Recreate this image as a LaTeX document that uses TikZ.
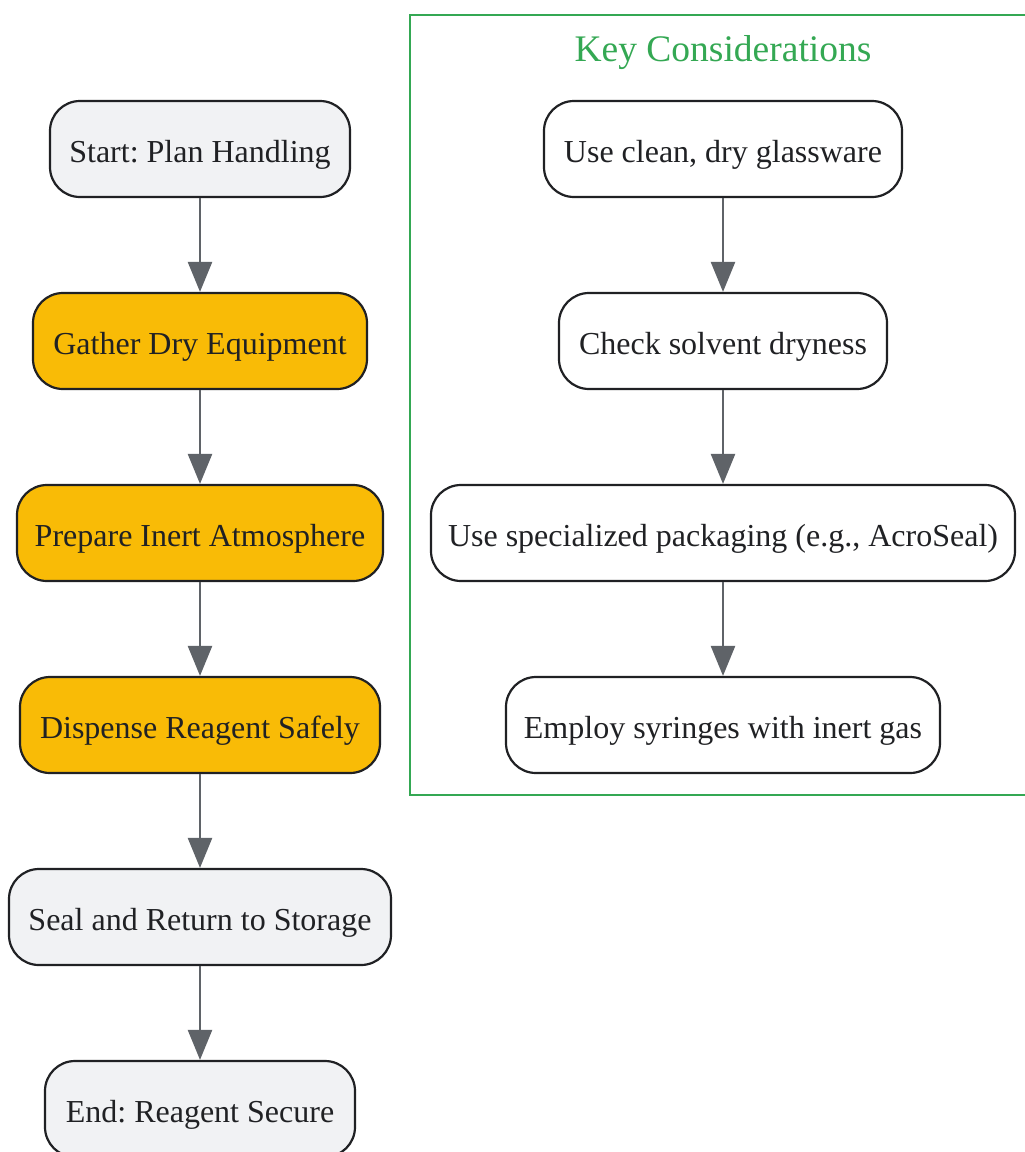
\documentclass[tikz,border=0pt]{standalone}
\usepackage{fontspec}
\setmainfont{Liberation Serif}
\usetikzlibrary{arrows.meta}
\frenchspacing
\definecolor{grayfill}{HTML}{F1F2F4}
\definecolor{yellowfill}{HTML}{F9BB06}
\definecolor{edgegray}{HTML}{5F6368}
\definecolor{darkline}{HTML}{202124}
\definecolor{clustergreen}{HTML}{34A853}
\tikzset{
  box/.style={draw=darkline, line width=2.2pt, rounded corners=30pt, minimum height=96pt,
    inner sep=0pt, text height=26pt, text depth=0pt,
    font=\fontsize{32}{36}\selectfont\frenchspacing, text=darkline},
  graybox/.style={box, fill=grayfill},
  yellowbox/.style={box, fill=yellowfill},
  whitebox/.style={box, fill=white},
  flow/.style={draw=edgegray, line width=2.5pt, -{Triangle[width=24pt,length=30pt]}},
}
\begin{document}
\begin{tikzpicture}[x=1pt,y=-1pt]
\useasboundingbox (0,0) rectangle (1025,1152);
\fill[white] (0,0) rectangle (1025,1152);
% cluster
\draw[clustergreen, line width=2.5pt] (1060,15) -- (410,15) -- (410,795) -- (1060,795);
\node[text=clustergreen, font=\fontsize{37.5}{42}\selectfont, anchor=base, inner sep=0pt] (title) at (723,61) {Key Considerations};
% left column
\node[graybox, minimum width=300pt] (start) at (200,149) {Start: Plan Handling};
\node[yellowbox, minimum width=334pt] (gather) at (200,341) {Gather Dry Equipment};
\node[yellowbox, minimum width=366pt] (prep) at (200,533) {Prepare Inert Atmosphere};
\node[yellowbox, minimum width=360pt] (disp) at (200,725) {Dispense Reagent Safely};
\node[graybox, minimum width=382pt] (seal) at (200,917) {Seal and Return to Storage};
\node[graybox, minimum width=310pt] (end) at (200,1109) {End: Reagent Secure};
% right column
\node[whitebox, minimum width=358pt] (clean) at (723,149) {Use clean, dry glassware};
\node[whitebox, minimum width=328pt] (check) at (723,341) {Check solvent dryness};
\node[whitebox, minimum width=584pt] (pack) at (723,533) {Use specialized packaging (e.g., AcroSeal)};
\node[whitebox, minimum width=434pt] (syr) at (723,725) {Employ syringes with inert gas};
% edges
\draw[flow] (start) -- (gather);
\draw[flow] (gather) -- (prep);
\draw[flow] (prep) -- (disp);
\draw[flow] (disp) -- (seal);
\draw[flow] (seal) -- (end);
\draw[flow] (clean) -- (check);
\draw[flow] (check) -- (pack);
\draw[flow] (pack) -- (syr);
\end{tikzpicture}
\end{document}
